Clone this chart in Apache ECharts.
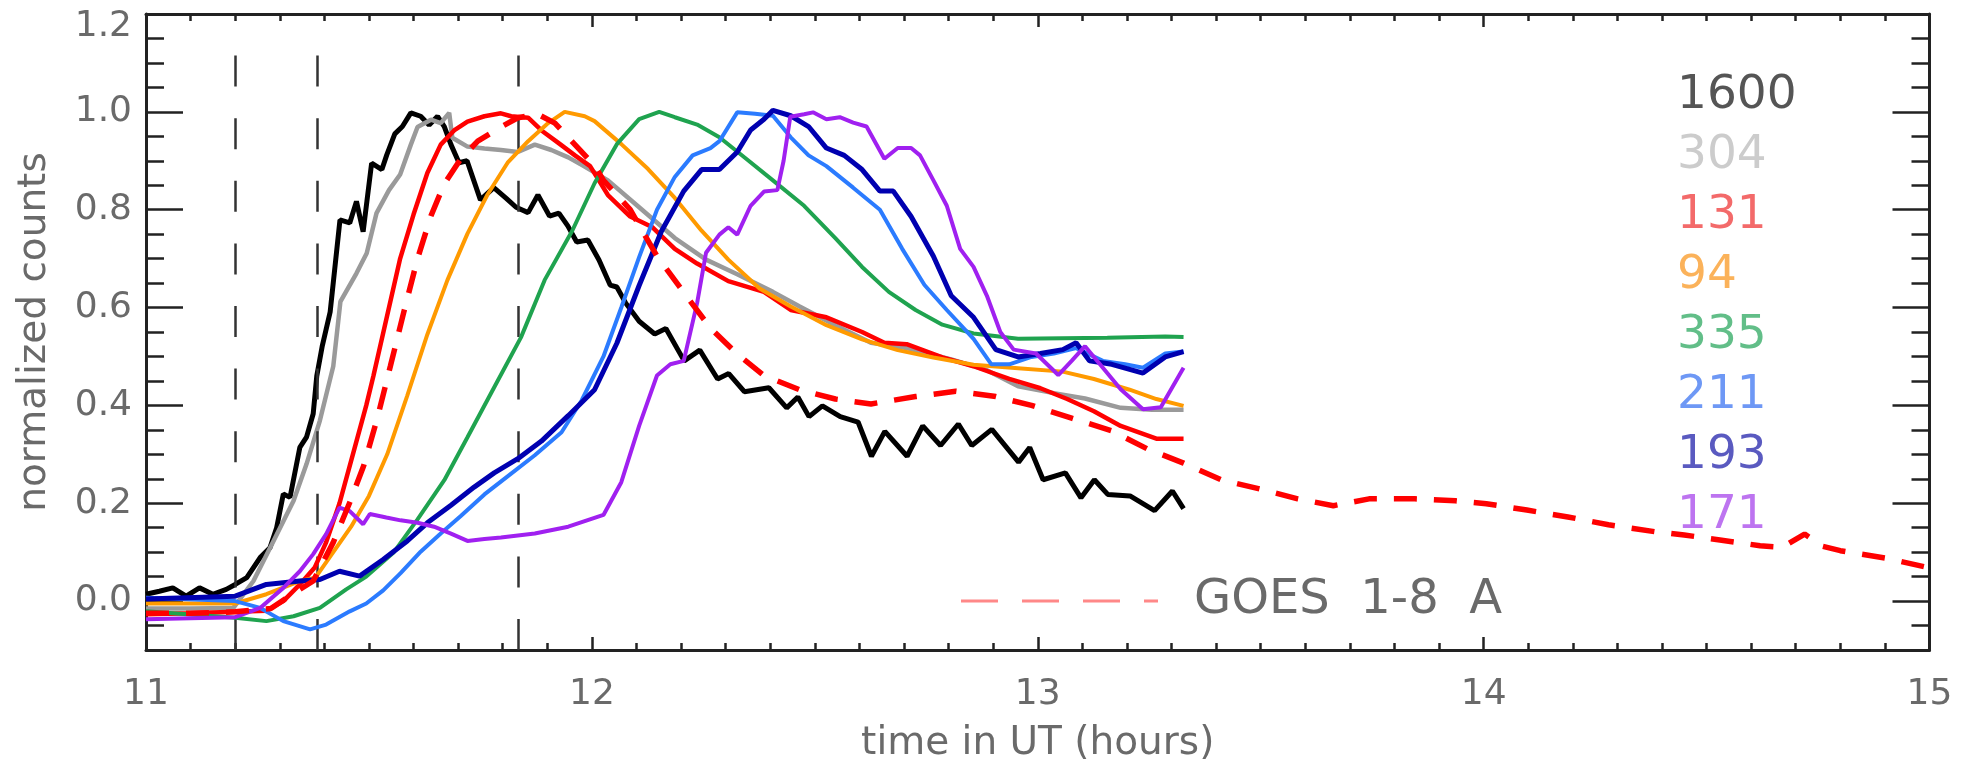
<!DOCTYPE html>
<html>
<head>
<meta charset="utf-8">
<title>normalized counts</title>
<script src="https://cdn.jsdelivr.net/npm/echarts@6.0.0/dist/echarts.min.js"></script>
<style>
html, body { margin: 0; padding: 0; background: #fff; }
#chart { width: 1971px; height: 764px; }
</style>
</head>
<body>
<div id="chart"></div>
<script>
// light curves, [time in UT hours, normalized counts]
const s1600 = [[11.0,0.014],[11.03,0.02],[11.06,0.027],[11.09,0.01],[11.12,0.027],[11.15,0.014],[11.18,0.024],[11.2,0.034],[11.226,0.048],[11.256,0.089],[11.278,0.109],[11.293,0.15],[11.308,0.219],[11.323,0.212],[11.345,0.314],[11.36,0.335],[11.375,0.383],[11.383,0.46],[11.395,0.52],[11.413,0.591],[11.435,0.779],[11.457,0.773],[11.472,0.817],[11.487,0.755],[11.506,0.895],[11.529,0.882],[11.54,0.912],[11.558,0.955],[11.575,0.97],[11.594,0.998],[11.616,0.991],[11.635,0.973],[11.654,0.991],[11.669,0.97],[11.684,0.933],[11.702,0.896],[11.72,0.9],[11.75,0.82],[11.78,0.845],[11.808,0.823],[11.83,0.805],[11.857,0.794],[11.879,0.83],[11.905,0.787],[11.926,0.793],[11.946,0.767],[11.966,0.734],[11.991,0.738],[12.016,0.697],[12.041,0.646],[12.056,0.642],[12.076,0.609],[12.106,0.572],[12.141,0.546],[12.166,0.557],[12.207,0.491],[12.242,0.513],[12.282,0.454],[12.307,0.465],[12.342,0.428],[12.397,0.436],[12.437,0.395],[12.462,0.417],[12.487,0.377],[12.517,0.399],[12.557,0.377],[12.597,0.366],[12.627,0.296],[12.657,0.347],[12.707,0.296],[12.742,0.358],[12.782,0.318],[12.822,0.362],[12.852,0.318],[12.897,0.351],[12.957,0.284],[12.982,0.314],[13.012,0.248],[13.062,0.262],[13.097,0.211],[13.127,0.248],[13.157,0.218],[13.207,0.215],[13.262,0.185],[13.302,0.225],[13.327,0.189]];
const s304 = [[11.0,-0.015],[11.1,-0.015],[11.196,-0.014],[11.241,0.041],[11.286,0.123],[11.331,0.205],[11.36,0.28],[11.39,0.369],[11.42,0.48],[11.436,0.612],[11.472,0.67],[11.495,0.711],[11.517,0.793],[11.545,0.84],[11.57,0.872],[11.594,0.933],[11.609,0.969],[11.639,0.984],[11.661,0.977],[11.68,0.998],[11.687,0.947],[11.721,0.929],[11.759,0.925],[11.796,0.922],[11.834,0.918],[11.872,0.933],[11.909,0.922],[11.947,0.907],[11.98,0.89],[12.036,0.86],[12.106,0.805],[12.186,0.742],[12.256,0.698],[12.326,0.668],[12.406,0.632],[12.466,0.602],[12.546,0.564],[12.626,0.528],[12.706,0.517],[12.806,0.494],[12.886,0.472],[12.956,0.439],[13.036,0.425],[13.106,0.414],[13.186,0.395],[13.256,0.391],[13.327,0.391]];
const s131 = [[11.0,-0.027],[11.1,-0.025],[11.2,-0.022],[11.27,-0.02],[11.308,0.0],[11.345,0.034],[11.378,0.068],[11.404,0.12],[11.434,0.2],[11.464,0.3],[11.494,0.4],[11.51,0.46],[11.54,0.58],[11.57,0.7],[11.6,0.79],[11.631,0.875],[11.661,0.933],[11.691,0.962],[11.721,0.98],[11.759,0.991],[11.796,0.997],[11.819,0.991],[11.857,0.988],[11.887,0.962],[11.924,0.937],[11.962,0.911],[11.996,0.889],[12.036,0.83],[12.086,0.786],[12.136,0.764],[12.186,0.72],[12.236,0.69],[12.306,0.654],[12.386,0.632],[12.446,0.595],[12.526,0.58],[12.606,0.55],[12.656,0.528],[12.706,0.525],[12.786,0.498],[12.856,0.48],[12.936,0.454],[13.006,0.435],[13.066,0.413],[13.126,0.388],[13.186,0.358],[13.266,0.332],[13.327,0.332]];
const s94 = [[11.0,-0.005],[11.2,-0.005],[11.27,0.014],[11.345,0.041],[11.38,0.048],[11.42,0.1],[11.46,0.152],[11.5,0.215],[11.541,0.3],[11.586,0.42],[11.631,0.545],[11.676,0.656],[11.721,0.751],[11.766,0.831],[11.811,0.896],[11.857,0.94],[11.902,0.977],[11.939,1.0],[11.984,0.991],[12.006,0.981],[12.066,0.934],[12.126,0.883],[12.186,0.824],[12.246,0.757],[12.306,0.698],[12.376,0.639],[12.446,0.602],[12.526,0.564],[12.606,0.535],[12.686,0.513],[12.766,0.498],[12.856,0.483],[12.956,0.476],[13.056,0.469],[13.126,0.454],[13.206,0.432],[13.266,0.413],[13.327,0.399]];
const s335 = [[11.0,-0.021],[11.2,-0.034],[11.27,-0.041],[11.331,-0.031],[11.39,-0.014],[11.449,0.024],[11.494,0.05],[11.556,0.1],[11.609,0.167],[11.669,0.247],[11.721,0.335],[11.781,0.437],[11.841,0.539],[11.894,0.656],[11.956,0.757],[12.006,0.854],[12.056,0.934],[12.106,0.985],[12.151,1.0],[12.186,0.989],[12.236,0.974],[12.286,0.948],[12.346,0.904],[12.406,0.86],[12.476,0.808],[12.546,0.742],[12.606,0.683],[12.666,0.632],[12.726,0.595],[12.786,0.565],[12.856,0.547],[12.956,0.536],[13.056,0.537],[13.156,0.538],[13.286,0.541],[13.327,0.54]];
const s211 = [[11.0,0.007],[11.2,0.0],[11.256,-0.014],[11.308,-0.041],[11.368,-0.058],[11.404,-0.048],[11.457,-0.021],[11.494,-0.005],[11.532,0.022],[11.571,0.057],[11.616,0.101],[11.661,0.138],[11.706,0.174],[11.759,0.218],[11.811,0.255],[11.872,0.298],[11.932,0.345],[11.977,0.41],[12.026,0.5],[12.066,0.6],[12.106,0.703],[12.146,0.8],[12.186,0.867],[12.226,0.911],[12.266,0.926],[12.286,0.94],[12.326,0.999],[12.366,0.996],[12.406,0.992],[12.446,0.948],[12.486,0.911],[12.526,0.889],[12.586,0.845],[12.646,0.8],[12.696,0.72],[12.746,0.646],[12.796,0.595],[12.856,0.536],[12.896,0.484],[12.936,0.484],[12.986,0.499],[13.036,0.506],[13.086,0.517],[13.146,0.491],[13.196,0.484],[13.236,0.477],[13.286,0.506],[13.327,0.51]];
const s193 = [[11.0,0.004],[11.2,0.01],[11.27,0.034],[11.345,0.041],[11.39,0.044],[11.434,0.061],[11.479,0.051],[11.532,0.085],[11.586,0.123],[11.631,0.16],[11.684,0.196],[11.736,0.233],[11.781,0.262],[11.834,0.291],[11.887,0.327],[11.947,0.379],[12.006,0.432],[12.056,0.527],[12.106,0.645],[12.156,0.756],[12.206,0.838],[12.246,0.882],[12.286,0.882],[12.326,0.918],[12.356,0.963],[12.386,0.985],[12.406,1.003],[12.446,0.992],[12.486,0.97],[12.526,0.926],[12.566,0.911],[12.606,0.882],[12.646,0.838],[12.676,0.838],[12.716,0.786],[12.766,0.705],[12.806,0.624],[12.856,0.58],[12.906,0.514],[12.956,0.499],[13.006,0.506],[13.056,0.514],[13.086,0.528],[13.116,0.491],[13.166,0.484],[13.236,0.466],[13.286,0.499],[13.327,0.51]];
const s171 = [[11.0,-0.037],[11.2,-0.033],[11.256,-0.014],[11.308,0.027],[11.345,0.061],[11.375,0.096],[11.404,0.137],[11.434,0.191],[11.457,0.184],[11.487,0.157],[11.502,0.178],[11.539,0.171],[11.571,0.165],[11.609,0.16],[11.646,0.152],[11.684,0.138],[11.721,0.123],[11.759,0.127],[11.796,0.13],[11.872,0.138],[11.947,0.152],[12.026,0.176],[12.066,0.243],[12.106,0.358],[12.146,0.461],[12.176,0.484],[12.206,0.491],[12.236,0.609],[12.256,0.712],[12.286,0.749],[12.306,0.764],[12.326,0.749],[12.356,0.808],[12.386,0.837],[12.416,0.84],[12.43,0.9],[12.445,0.99],[12.476,0.995],[12.496,0.999],[12.526,0.985],[12.556,0.989],[12.586,0.978],[12.616,0.97],[12.656,0.904],[12.686,0.926],[12.716,0.926],[12.736,0.911],[12.766,0.86],[12.796,0.808],[12.826,0.72],[12.856,0.683],[12.886,0.624],[12.916,0.55],[12.946,0.514],[12.996,0.506],[13.046,0.462],[13.076,0.491],[13.106,0.521],[13.146,0.477],[13.186,0.433],[13.236,0.392],[13.276,0.396],[13.327,0.477]];
const sGoes = [[11.0,-0.025],[11.1,-0.025],[11.2,-0.022],[11.28,-0.015],[11.316,0.007],[11.375,0.041],[11.42,0.12],[11.458,0.204],[11.488,0.276],[11.518,0.371],[11.548,0.48],[11.578,0.59],[11.609,0.7],[11.639,0.787],[11.669,0.853],[11.706,0.904],[11.744,0.94],[11.796,0.969],[11.834,0.988],[11.879,0.995],[11.917,0.977],[11.962,0.933],[12.007,0.889],[12.026,0.86],[12.086,0.8],[12.146,0.705],[12.206,0.631],[12.266,0.558],[12.326,0.505],[12.386,0.461],[12.466,0.432],[12.546,0.413],[12.626,0.403],[12.726,0.418],[12.816,0.429],[12.906,0.418],[12.986,0.4],[13.076,0.374],[13.166,0.348],[13.246,0.311],[13.327,0.282],[13.411,0.248],[13.503,0.228],[13.583,0.209],[13.663,0.195],[13.743,0.209],[13.846,0.209],[13.937,0.205],[14.006,0.199],[14.097,0.186],[14.189,0.172],[14.28,0.156],[14.383,0.142],[14.45,0.135],[14.53,0.125],[14.62,0.113],[14.67,0.11],[14.72,0.137],[14.76,0.112],[14.8,0.103],[14.9,0.088],[15.0,0.068]];

const bands = ['1600', '304', '131', '94', '335', '211', '193', '171'];
const curves = [s1600, s304, s131, s94, s335, s211, s193, s171];
const goesName = 'GOES  1-8  A';
const markTimes = [11.2, 11.383, 11.834];
const yMajor = [0, 0.2, 0.4, 0.6, 0.8, 1.0, 1.2];

const lineColors = ['#000000', '#9a9a9a', '#ff0000', '#ff9a00', '#1fa34f', '#2b7bff', '#0000b0', '#a020f0'];
const labelColors = ['#555555', '#cccccc', '#f36a6a', '#fbb25a', '#62be88', '#6e98f5', '#5a5ac0', '#bd74f0'];
const lineWidths = [5, 4.5, 4.5, 4, 4, 4, 5, 4];

const FONT = 'DejaVu Sans';
const AXIS_COLOR = '#222';
const TEXT_COLOR = '#6a6a6a';

const chart = echarts.init(document.getElementById('chart'));

function xAxisCfg(pos, labels) {
  return {
    type: 'value', position: pos, min: 11, max: 15, interval: 1,
    name: labels ? 'time in UT (hours)' : '', nameLocation: 'middle', nameGap: 74,
    nameTextStyle: { fontFamily: FONT, fontSize: 39, color: TEXT_COLOR },
    axisLine: { show: true, onZero: false, lineStyle: { color: AXIS_COLOR, width: 3 } },
    axisTick: { show: true, inside: true, length: 13, lineStyle: { color: AXIS_COLOR, width: 2.5 } },
    minorTick: { show: true, splitNumber: 10, length: 7, lineStyle: { color: AXIS_COLOR, width: 2.5 } },
    axisLabel: { show: labels, margin: 27, fontFamily: FONT, fontSize: 36, color: TEXT_COLOR },
    splitLine: { show: false }
  };
}

function yMinorCfg(pos) {
  return {
    type: 'value', position: pos, min: -0.1, max: 1.2, interval: 0.05,
    axisLine: { show: true, onZero: false, lineStyle: { color: AXIS_COLOR, width: 3 } },
    axisTick: { show: true, inside: true, length: 18, lineStyle: { color: AXIS_COLOR, width: 2.5 } },
    axisLabel: { show: false },
    splitLine: { show: false }
  };
}

function yMajorCfg(pos, labels) {
  return {
    type: 'value', position: pos, min: -0.1, max: 1.2,
    name: labels ? 'normalized counts' : '', nameLocation: 'middle', nameGap: 92,
    nameTextStyle: { fontFamily: FONT, fontSize: 39, color: TEXT_COLOR },
    axisLine: { show: false },
    axisTick: { show: true, inside: true, length: 37, customValues: yMajor, lineStyle: { color: AXIS_COLOR, width: 2.5 } },
    axisLabel: {
      show: labels, customValues: yMajor, margin: 14,
      fontFamily: FONT, fontSize: 36, color: TEXT_COLOR,
      // the top label sits a little lower so it stays inside the page
      formatter: v => v > 1.15 ? '{top|' + v.toFixed(1) + '}' : v.toFixed(1),
      rich: { top: { fontFamily: FONT, fontSize: 36, color: TEXT_COLOR, padding: [26, 0, 0, 0] } }
    },
    splitLine: { show: false }
  };
}

const series = bands.map((b, i) => ({
  name: b,
  type: 'line',
  data: curves[i],
  showSymbol: false,
  symbol: 'none',
  z: 3 + i,
  lineStyle: { color: lineColors[i], width: lineWidths[i] },
  itemStyle: { color: lineColors[i] }
}));

series.push({
  name: goesName,
  type: 'line',
  data: sGoes,
  showSymbol: false,
  symbol: 'none',
  z: 12,
  lineStyle: { color: '#ff0000', width: 5.5, type: [23, 17] },
  itemStyle: { color: '#ff0000' }
});

// vertical dashed markers
series[0].markLine = {
  silent: true,
  symbol: 'none',
  label: { show: false },
  lineStyle: { color: '#333', width: 2.5, type: [31, 31.6] },
  data: markTimes.map(t => [{ coord: [t, -0.1] }, { coord: [t, 1.115] }])
};

chart.setOption({
  animation: false,
  backgroundColor: '#fff',
  grid: { left: 146, right: 41.5, top: 14, bottom: 114, outerBoundsMode: 'none' },
  legend: [
    {
      orient: 'vertical', left: 1672, top: 66, padding: 0,
      icon: 'none', itemWidth: 0, itemHeight: 60, itemGap: 0,
      selectedMode: false,
      textStyle: { fontFamily: FONT, fontSize: 47, lineHeight: 60 },
      data: bands.map((b, i) => ({ name: b, textStyle: { color: labelColors[i] } }))
    },
    {
      orient: 'horizontal', left: 961, top: 571, padding: 0,
      icon: 'path://M0,0h37v3h-37z M61,0h37v3h-37z M122,0h37v3h-37z M183,0h14v3h-14z',
      itemWidth: 197, itemHeight: 3,
      selectedMode: false,
      textStyle: { fontFamily: FONT, fontSize: 48, lineHeight: 60, color: TEXT_COLOR, padding: [0, 0, 0, 31] },
      data: [{ name: goesName, itemStyle: { color: '#ff8888' } }]
    }
  ],
  xAxis: [xAxisCfg('bottom', true), xAxisCfg('top', false)],
  yAxis: [yMinorCfg('left'), yMajorCfg('left', true), yMinorCfg('right'), yMajorCfg('right', false)],
  series: series
});
</script>
</body>
</html>
